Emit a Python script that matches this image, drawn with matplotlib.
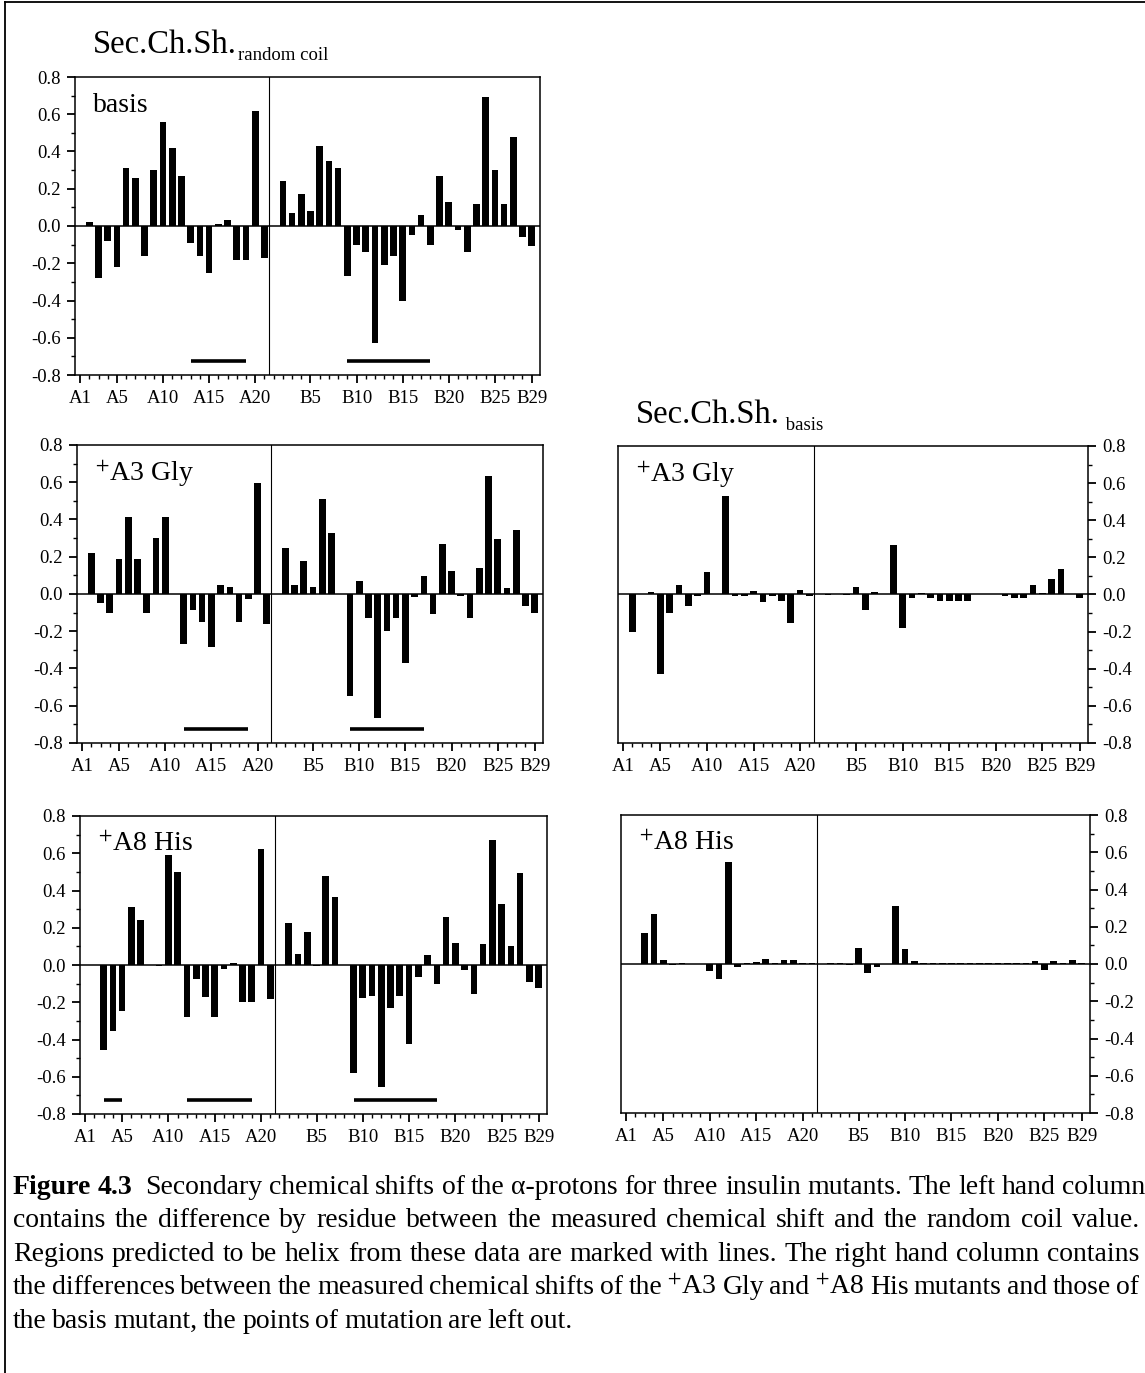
import numpy as np
import matplotlib.pyplot as plt
from matplotlib.lines import Line2D
from matplotlib.ticker import FixedLocator, MultipleLocator, FormatStrFormatter

nan = np.nan

# residues A1..A21 then B1..B30
residues = [f"A{i}" for i in range(1, 22)] + [f"B{i}" for i in range(1, 31)]
tick_labels = ["A1", "A5", "A10", "A15", "A20", "B5", "B10", "B15", "B20", "B25", "B29"]

# secondary chemical shift vs random coil
basis_a = [nan, 0.02, -0.28, -0.08, -0.22, 0.31, 0.26, -0.16, 0.30, 0.56, 0.42,
           0.27, -0.09, -0.16, -0.25, 0.01, 0.03, -0.18, -0.18, 0.62, -0.17]
basis_b = [nan, 0.24, 0.07, 0.17, 0.08, 0.43, 0.35, 0.31, -0.27, -0.10, -0.14,
           -0.63, -0.21, -0.16, -0.40, -0.05, 0.06, -0.10, 0.27, 0.13, -0.02,
           -0.14, 0.12, 0.69, 0.30, 0.12, 0.48, -0.06, -0.11, nan]

gly_a = [nan, 0.22, -0.05, -0.10, 0.19, 0.415, 0.19, -0.10, 0.30, 0.415, nan,
         -0.27, -0.085, -0.15, -0.285, 0.047, 0.036, -0.15, -0.027, 0.594, -0.16]
gly_b = [nan, 0.248, 0.048, 0.178, 0.038, 0.508, 0.327, nan, -0.546, 0.072, -0.13,
         -0.664, -0.20, -0.13, -0.368, -0.015, 0.095, -0.108, 0.27, 0.126, -0.01,
         -0.127, 0.14, 0.636, 0.293, 0.03, 0.343, -0.066, -0.10, nan]

his_a = [nan, nan, -0.457, -0.355, -0.246, 0.314, 0.242, nan, -0.005, 0.592, 0.502,
         -0.278, -0.077, -0.174, -0.278, -0.023, 0.011, -0.20, -0.20, 0.624, -0.181]
his_b = [nan, 0.228, 0.057, 0.178, -0.005, 0.477, 0.366, nan, -0.58, -0.178, -0.167,
         -0.655, -0.23, -0.167, -0.425, -0.063, 0.052, -0.10, 0.26, 0.118, -0.027,
         -0.156, 0.113, 0.669, 0.33, 0.104, 0.493, -0.09, -0.122, nan]

# secondary chemical shift vs basis mutant
gly_diff_a = [nan, -0.20, nan, 0.015, -0.43, -0.10, 0.05, -0.06, -0.01, 0.12, nan,
              0.53, -0.01, -0.01, 0.02, -0.04, -0.01, -0.035, -0.155, 0.025, -0.01]
gly_diff_b = [nan, -0.005, 0.0, -0.005, 0.04, -0.085, 0.013, nan, 0.265, -0.18, -0.02,
              0.01, -0.02, -0.035, -0.035, -0.035, -0.035, 0.002, 0.0, 0.0, -0.01,
              -0.02, -0.02, 0.05, 0.01, 0.086, 0.135, 0.0, -0.02, nan]

his_diff_a = [nan, nan, 0.165, 0.27, 0.02, -0.005, 0.005, nan, nan, -0.04, -0.08,
              0.55, -0.015, 0.005, 0.01, 0.025, 0.005, 0.02, 0.02, 0.003, 0.005]
his_diff_b = [nan, 0.003, 0.003, -0.005, 0.087, -0.05, -0.015, nan, 0.31, 0.078, 0.018,
              0.004, 0.004, 0.004, 0.004, 0.004, 0.004, 0.004, 0.004, 0.004, 0.004,
              0.004, 0.004, 0.015, -0.03, 0.015, 0.004, 0.02, 0.005, nan]

# predicted helix regions
basis_helix = [("A13", "A19"), ("B9", "B18")]
gly_helix = [("A12", "A19"), ("B9", "B17")]
his_helix = [("A3", "A5"), ("A12", "A19"), ("B9", "B18")]

caption = [
    "Figure 4.3  Secondary chemical shifts of the \u03b1-protons for three insulin mutants. The left hand column",
    "contains the difference by residue between the measured chemical shift and the random coil value.",
    "Regions predicted to be helix from these data are marked with lines. The right hand column contains",
    "the differences between the measured chemical shifts of the $^{+}$A3 Gly and $^{+}$A8 His mutants and those of",
    "the basis mutant, the points of mutation are left out.",
]

plt.rcParams['font.family'] = ['Liberation Serif', 'DejaVu Serif']
plt.rcParams['mathtext.fontset'] = 'stix'
plt.rcParams['axes.unicode_minus'] = False

W, H = 1145, 1373
fig = plt.figure(figsize=(W / 100, H / 100), dpi=100)
x = np.arange(1, len(residues) + 1)
pos = {r: i + 1 for i, r in enumerate(residues)}


def px_rect(left, top, right, bottom):
    return [left / W, 1 - bottom / H, (right - left) / W, (bottom - top) / H]


def panel(rect, values, label, helix=(), right=False):
    ax = fig.add_axes(px_rect(*rect))
    ax.bar(x, values, width=0.72, color='black')
    ax.axhline(0, color='black', lw=1.1)
    ax.axvline(21.5, color='black', lw=0.8)
    for a, b in helix:
        ax.plot([pos[a], pos[b]], [-0.725, -0.725], color='black', lw=2.6,
                solid_capstyle='butt')
    ax.set_xlim(0.45, 50.9)
    ax.set_ylim(-0.8, 0.8)
    ax.set_xticks([pos[t] for t in tick_labels])
    ax.set_xticklabels(tick_labels)
    ax.xaxis.set_minor_locator(FixedLocator(x))
    ax.yaxis.set_major_locator(MultipleLocator(0.2))
    ax.yaxis.set_minor_locator(MultipleLocator(0.1))
    ax.yaxis.set_major_formatter(FormatStrFormatter('%.1f'))
    ax.tick_params(which='major', direction='out', length=6, width=1.3,
                   labelsize=13.5, pad=4)
    ax.tick_params(which='minor', direction='out', length=3, width=1)
    ax.tick_params(axis='x', pad=5)
    if right:
        ax.yaxis.tick_right()
        ax.yaxis.set_ticks_position('right')
    for s in ax.spines.values():
        s.set_linewidth(1.1)
    ax.text(0.038, 0.905, label, transform=ax.transAxes, fontsize=20, va='center')
    return ax


panel((75, 77, 540, 375), basis_a + basis_b, "basis", basis_helix)
panel((77, 445, 543, 743), gly_a + gly_b, "$^{+}$A3 Gly", gly_helix)
panel((80, 816, 547, 1114), his_a + his_b, "$^{+}$A8 His", his_helix)
panel((618, 446, 1088, 743), gly_diff_a + gly_diff_b, "$^{+}$A3 Gly", right=True)
panel((621, 815, 1090, 1113), his_diff_a + his_diff_b, "$^{+}$A8 His", right=True)

# column titles with subscripts
for tx, ty, sub in [(93, 45, "random coil"), (636, 415, " basis")]:
    t = fig.text(tx / W, 1 - ty / H, "Sec.Ch.Sh.", fontsize=23.5, va='center')
    fig.axes[0].annotate(sub, xy=(1, 0), xycoords=t, xytext=(1, -3),
                         textcoords='offset points', fontsize=13.5,
                         va='bottom', ha='left', annotation_clip=False)

# caption, justified lines
renderer = fig.canvas.get_renderer()
x0, x1 = 13, 1139
for i, line in enumerate(caption):
    y = 1 - (1187 + i * 33.6) / H
    words = [w for w in line.split(' ') if w != '']
    texts = []
    for j, w in enumerate(words):
        bold = (i == 0 and j < 2)
        texts.append(fig.text(0, y, w, fontsize=20, va='center',
                              fontweight='bold' if bold else 'normal'))
    widths = [t.get_window_extent(renderer).width for t in texts]
    if i < len(caption) - 1:
        gap = (x1 - x0 - sum(widths)) / (len(words) - 1)
    else:
        gap = 5.5
    cur = x0
    for j, (t, wd) in enumerate(zip(texts, widths)):
        t.set_x(cur / W)
        cur += wd + gap
        if i == 0 and j == 1:
            cur += 6

# frame lines of the scanned page
fig.add_artist(Line2D([5 / W, 5 / W], [0, 1 - 2 / H], color='black', lw=1.3))
fig.add_artist(Line2D([5 / W, 1], [1 - 2 / H, 1 - 2 / H], color='black', lw=1.3))

fig.savefig("out.png", dpi=100)
